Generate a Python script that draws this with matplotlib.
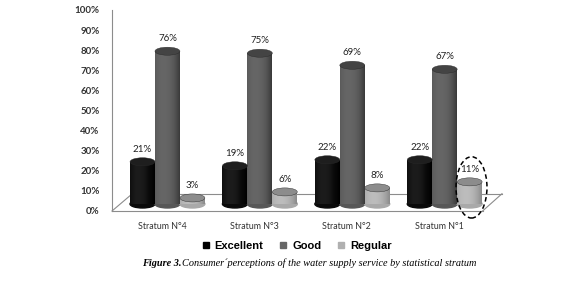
import matplotlib
matplotlib.use("Agg")
import matplotlib.pyplot as plt
from matplotlib.patches import Ellipse, Rectangle
from matplotlib.lines import Line2D
import numpy as np

# Data
strata = ["Stratum N°4", "Stratum N°3", "Stratum N°2", "Stratum N°1"]
excellent = [21, 19, 22, 22]
good = [76, 75, 69, 67]
regular = [3, 6, 8, 11]

# name, values, edge shade, body, highlight, cap
series = [
    ("Excellent", excellent, "#000000", "#0a0a0a", "#1c1c1c", "#1e1e1e"),
    ("Good",      good,      "#3a3a3a", "#575757", "#666666", "#444444"),
    ("Regular",   regular,   "#8a8a8a", "#a9a9a9", "#bdbdbd", "#8c8c8c"),
]

W, H = 580, 288
fig = plt.figure(figsize=(W / 100, H / 100), dpi=100)
ax = fig.add_axes([112 / W, 1 - 211 / H, 390 / W, 201 / H])
ax.set_xlim(-0.6, 3.62)
ax.set_ylim(0, 100)

FONT = "Lato"
bw = 0.27       # bar width in group units
base = 3.5      # bars sit slightly above the floor (3D depth)
cap_h = 4.0     # cylinder cap height in data units

# floor parallelogram
fl = dict(color="#8c8c8c", lw=0.8, clip_on=False)
ax.plot([-0.6, 3.41], [0, 0], **fl)
ax.plot([-0.6, -0.38], [0, 8.6], **fl)
ax.plot([-0.38, 3.62], [8.6, 8.6], **fl)
ax.plot([3.62, 3.41], [8.6, 0], **fl)

# cylinder shading profile
u = np.linspace(0, 1, 60)
prof = np.clip(1 - ((u - 0.35) / 0.65) ** 2, 0, 1)

for j, (name, vals, c_edge, c_body, c_hi, c_cap) in enumerate(series):
    ce = np.array(matplotlib.colors.to_rgb(c_edge))
    cb = np.array(matplotlib.colors.to_rgb(c_body))
    ch = np.array(matplotlib.colors.to_rgb(c_hi))
    p = prof[:, None]
    img = np.where(p < 0.6, ce + (cb - ce) * (p / 0.6), cb + (ch - cb) * ((p - 0.6) / 0.4))
    img = img[None, :, :]
    for i, v in enumerate(vals):
        xc = i + (j - 1) * bw
        x0 = xc - bw / 2
        ax.add_patch(Ellipse((xc, base), bw, cap_h, color=c_body, zorder=2))
        rect = Rectangle((x0, base), bw, v, facecolor="none", edgecolor="none", zorder=3)
        ax.add_patch(rect)
        im = ax.imshow(img, extent=[x0, x0 + bw, base, base + v], aspect="auto",
                       zorder=3, interpolation="bilinear")
        im.set_clip_path(rect)
        ax.add_patch(Ellipse((xc, base + v), bw, cap_h, facecolor=c_cap,
                             edgecolor="#2a2a2a", lw=0.3, zorder=4))
        ax.annotate(f"{v}%", (xc, base + v), xytext=(0, 9), textcoords="offset points",
                    ha="center", va="center", fontsize=7, family=FONT, color="#222222")

# dashed ellipse highlight around the last Regular bar
ax.add_patch(Ellipse((3 + bw + 0.02, 11.75), 0.335, 30.5, fill=False, ls=(0, (3, 2)),
                     lw=1.1, edgecolor="black", zorder=5, clip_on=False))

ax.set_yticks(np.arange(0, 101, 10))
ax.set_yticklabels([f"{t}%" for t in range(0, 101, 10)], family=FONT,
                   fontsize=7, fontweight="bold", color="#333333")
ax.set_xticks([k - 0.06 for k in range(4)])
ax.set_xticklabels(strata, family=FONT, fontsize=6.4, color="#333333")
ax.tick_params(axis="y", length=0, pad=9)
ax.tick_params(axis="x", length=0, pad=8)
for s in ["top", "right", "bottom"]:
    ax.spines[s].set_visible(False)
ax.spines["left"].set_color("#8c8c8c")
ax.spines["left"].set_linewidth(0.8)

handles = [Line2D([], [], marker="s", ls="", color=c, markersize=5)
           for c in ["#000000", "#666666", "#b0b0b0"]]
fig.legend(handles, [s[0] for s in series], loc="center", bbox_to_anchor=(296 / W, 1 - 246 / H),
           ncol=3, frameon=False, prop=dict(family="Liberation Sans", weight="bold", size=8),
           handletextpad=0.3, columnspacing=1.3, handlelength=1.0)

# caption: bold "Figure 3." followed by italic text
cap_size = 7.4
t1 = fig.text(142 / W, 1 - 263 / H, "Figure 3.", family="Liberation Serif", style="italic",
              weight="bold", fontsize=cap_size, va="center", ha="left")
fig.canvas.draw()
bb = t1.get_window_extent(renderer=fig.canvas.get_renderer())
fig.text(bb.x1 / (fig.dpi * fig.get_figwidth()), 1 - 263 / H,
         "Consumer´perceptions of the water supply service by statistical stratum",
         family="Liberation Serif", style="italic", fontsize=cap_size, va="center", ha="left")

fig.savefig("out.png", dpi=100, facecolor="white")
